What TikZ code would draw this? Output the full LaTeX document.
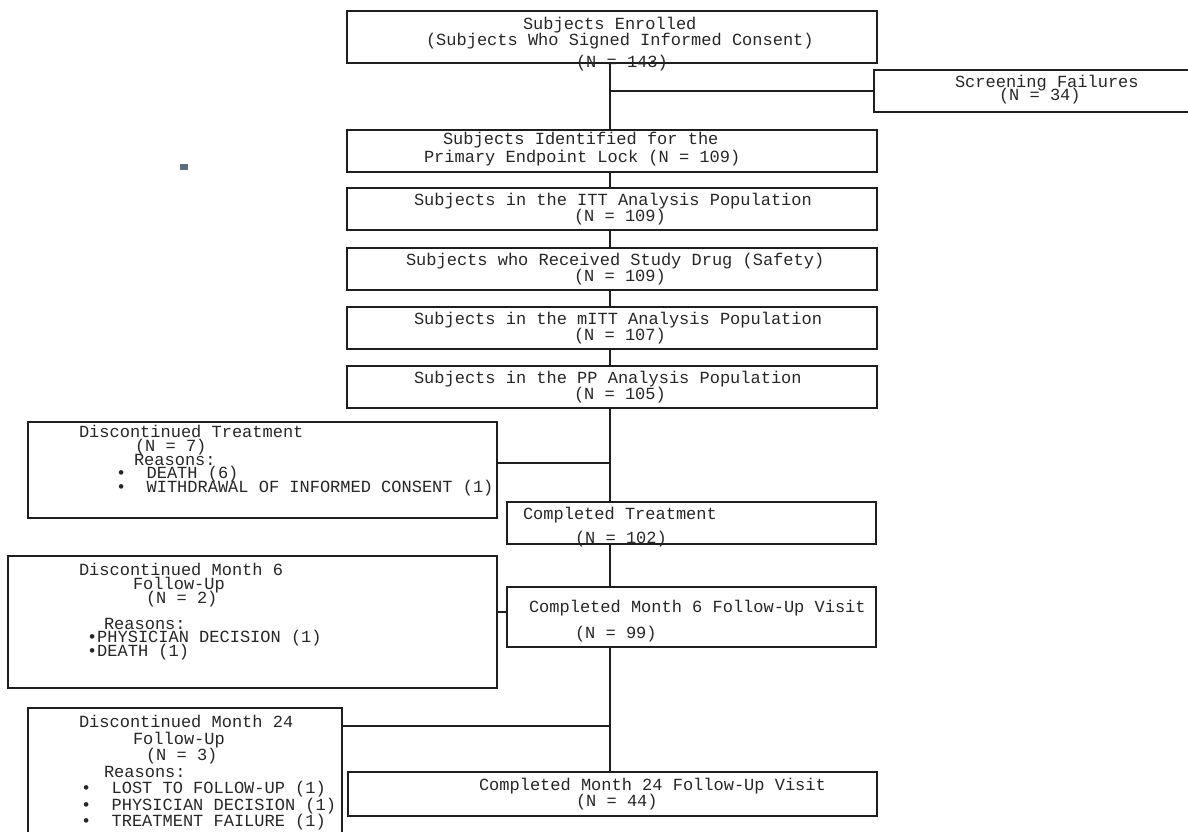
\documentclass[tikz,border=0pt]{standalone}
\usepackage{fontspec}
\newfontfamily\monofam{Liberation Mono}
\definecolor{ln}{HTML}{1E1E1E}
\definecolor{tx}{HTML}{262626}
\definecolor{markc}{HTML}{5B6B79}
\tikzset{
  box/.style={draw=ln, line width=1.3pt, inner sep=0pt, outer sep=0pt},
  conn/.style={draw=ln, line width=1.3pt},
  txt/.style={anchor=base west, inner sep=0pt, outer sep=0pt,
    font=\monofam\fontsize{17}{17}\selectfont, text=tx},
}
\newcommand\tl[4]{\node[txt] (#1) at (#2,#3) {#4};}
\begin{document}
\begin{tikzpicture}[x=1pt,y=-1pt]
\useasboundingbox (0,0) rectangle (1188,832);

% boxes
\node[box, minimum width=530pt, minimum height=52pt] (enrolled) at (612,37) {};
\node[box, minimum width=318pt, minimum height=42pt] (screen) at (1033,91) {};
\node[box, minimum width=530pt, minimum height=42pt] (lock) at (612,151) {};
\node[box, minimum width=530pt, minimum height=42pt] (itt) at (612,209) {};
\node[box, minimum width=530pt, minimum height=42pt] (safety) at (612,269) {};
\node[box, minimum width=530pt, minimum height=42pt] (mitt) at (612,328) {};
\node[box, minimum width=530pt, minimum height=42pt] (pp) at (612,387) {};
\node[box, minimum width=469pt, minimum height=96pt] (dt) at (262.5,470) {};
\node[box, minimum width=369pt, minimum height=42pt] (ct) at (691.5,523) {};
\node[box, minimum width=489pt, minimum height=132pt] (dm6) at (252.5,622) {};
\node[box, minimum width=369pt, minimum height=60pt] (cm6) at (691.5,617) {};
\node[box, minimum width=314pt, minimum height=142pt] (dm24) at (185,779) {};
\node[box, minimum width=529pt, minimum height=44pt] (cm24) at (612.5,794) {};

% small mark
\node[fill=markc, inner sep=0pt, minimum width=8pt, minimum height=6pt] (mk) at (184,167) {};

% connectors
\coordinate (tx) at (610,0);
\draw[conn] (enrolled.south -| tx) -- (lock.north -| tx);
\draw[conn] (screen.west -| tx) -- (screen.west);
\draw[conn] (lock.south -| tx) -- (itt.north -| tx);
\draw[conn] (itt.south -| tx) -- (safety.north -| tx);
\draw[conn] (safety.south -| tx) -- (mitt.north -| tx);
\draw[conn] (mitt.south -| tx) -- (pp.north -| tx);
\draw[conn] (pp.south -| tx) -- (ct.north -| tx);
\coordinate (jdt) at (610,463);
\draw[conn] (jdt -| dt.east) -- (jdt);
\draw[conn] (ct.south -| tx) -- (cm6.north -| tx);
\coordinate (jm6) at (502,612);
\draw[conn] (jm6 -| dm6.east) -- (jm6 -| cm6.west);
\draw[conn] (cm6.south -| tx) -- (cm24.north -| tx);
\coordinate (jm24) at (610,726);
\draw[conn] (jm24 -| dm24.east) -- (jm24);

% texts
\tl{e1}{523}{30}{Subjects Enrolled}
\tl{e2}{426}{46}{(Subjects Who Signed Informed Consent)}
\tl{e3}{576}{68}{(N = 143)}
\tl{s1}{955}{87.5}{Screening Failures}
\tl{s2}{999}{101}{(N = 34)}
\tl{l1}{443}{145}{Subjects Identified for the}
\tl{l2}{424}{162}{Primary Endpoint Lock (N = 109)}
\tl{i1}{414}{205}{Subjects in the ITT Analysis Population}
\tl{i2}{574}{221}{(N = 109)}
\tl{f1}{406}{265}{Subjects who Received Study Drug (Safety)}
\tl{f2}{574}{281}{(N = 109)}
\tl{m1}{414}{324}{Subjects in the mITT Analysis Population}
\tl{m2}{574}{340}{(N = 107)}
\tl{p1}{414}{383}{Subjects in the PP Analysis Population}
\tl{p2}{574}{399}{(N = 105)}
\tl{d1}{79}{437}{Discontinued Treatment}
\tl{d2}{135}{451}{(N = 7)}
\tl{d3}{134}{465}{Reasons:}
\tl{d4}{116}{478.5}{•\ \ DEATH (6)}
\tl{d5}{116}{492}{•\ \ WITHDRAWAL OF INFORMED CONSENT (1)}
\tl{c1}{523}{519}{Completed Treatment}
\tl{c2}{575}{543}{(N = 102)}
\tl{g1}{79}{575}{Discontinued Month 6}
\tl{g2}{133}{589}{Follow-Up}
\tl{g3}{146}{603}{(N = 2)}
\tl{g4}{104}{629}{Reasons:}
\tl{g5}{87}{642.5}{•PHYSICIAN DECISION (1)}
\tl{g6}{87}{656}{•DEATH (1)}
\tl{h1}{529}{612}{Completed Month 6 Follow-Up Visit}
\tl{h2}{575}{638}{(N = 99)}
\tl{k1}{79}{727.5}{Discontinued Month 24}
\tl{k2}{133}{744}{Follow-Up}
\tl{k3}{146}{760.5}{(N = 3)}
\tl{k4}{104}{777}{Reasons:}
\tl{k5}{81}{793.5}{•\ \ LOST TO FOLLOW-UP (1)}
\tl{k6}{81}{810}{•\ \ PHYSICIAN DECISION (1)}
\tl{k7}{81}{826.5}{•\ \ TREATMENT FAILURE (1)}
\tl{n1}{479}{790}{Completed Month 24 Follow-Up Visit}
\tl{n2}{576}{806}{(N = 44)}
\end{tikzpicture}
\end{document}
